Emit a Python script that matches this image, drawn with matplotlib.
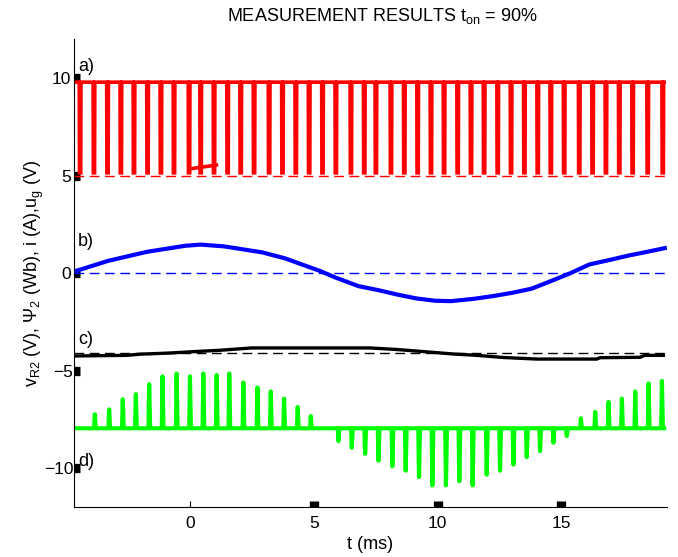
import numpy as np
import matplotlib
matplotlib.use("Agg")
import matplotlib.pyplot as plt

plt.rcParams['font.family'] = ['Liberation Sans', 'DejaVu Sans']
plt.rcParams['mathtext.fontset'] = 'custom'
plt.rcParams['mathtext.rm'] = 'Liberation Sans'
plt.rcParams['mathtext.it'] = 'Liberation Sans'

# ==== a) gate voltage: PWM pulses (times in ms where the signal drops) ====
ug_high = 9.8
ug_low = 5.15
ug_ref = 5.0
pulse_t = [-4.50, -3.94, -3.39, -2.85, -2.32, -1.77, -1.23, -0.70, -0.09, 0.38,
           0.92, 1.47, 2.00, 2.54, 3.15, 3.69, 4.23, 4.77, 5.31, 5.85,
           6.46, 7.00, 7.47, 8.08, 8.62, 9.16, 9.70, 10.23, 10.78, 11.32,
           11.85, 12.40, 12.94, 13.48, 14.02, 14.55, 15.09, 15.70, 16.24, 16.78,
           17.32, 17.86, 18.47, 19.08]
glitch_t = [-0.05, 1.05]
glitch_v = [5.35, 5.55]

# ==== b) flux ====
psi_t = [-4.68, -3.32, -1.76, -0.21, 0.42, 1.35, 2.91, 3.84, 4.47, 5.24,
         5.87, 6.80, 7.58, 8.36, 9.14, 9.91, 10.54, 11.47, 12.25, 13.03,
         13.81, 14.59, 15.37, 16.14, 16.92, 17.70, 18.48, 19.20]
psi_v = [0.10, 0.64, 1.10, 1.41, 1.47, 1.38, 1.07, 0.76, 0.47, 0.12,
         -0.22, -0.66, -0.86, -1.09, -1.29, -1.41, -1.43, -1.31, -1.17, -1.00,
         -0.79, -0.40, 0.00, 0.45, 0.67, 0.90, 1.10, 1.29]

# ==== c) current (offset) ====
i_t = [-4.69, -2.58, -2.04, -0.83, 0.11, 1.19, 2.48, 7.27, 8.35, 9.56,
       10.64, 11.59, 12.66, 14.02, 16.44, 16.58, 18.20, 18.37, 19.14]
i_v = [-4.24, -4.21, -4.15, -4.09, -4.02, -3.95, -3.83, -3.83, -3.91, -4.03,
       -4.14, -4.21, -4.32, -4.40, -4.40, -4.33, -4.31, -4.21, -4.21]
i_ref = -4.07

# ==== d) resistor voltage spikes (offset) ====
vr_base = -7.95
spike_t = [-3.87, -3.29, -2.74, -2.21, -1.67, -1.13, -0.56, -0.02, 0.52, 1.06,
           1.57, 2.14, 2.71, 3.25, 3.79, 4.34, 4.87,
           5.99, 6.53, 7.07, 7.61, 8.17, 8.71, 9.25, 9.79, 10.34, 10.88,
           11.42, 11.99, 12.53, 13.07, 13.61, 14.15, 14.69, 15.23,
           15.80, 16.38, 16.92, 17.46, 18.00, 18.54, 19.08]
spike_v = [-7.23, -6.98, -6.46, -6.20, -5.69, -5.29, -5.14, -5.29, -5.14, -5.22,
           -5.14, -5.60, -5.86, -6.06, -6.43, -6.86, -7.32,
           -8.61, -8.95, -9.26, -9.61, -9.90, -10.12, -10.45, -10.88, -10.88, -10.67,
           -10.88, -10.33, -10.12, -9.81, -9.43, -9.12, -8.69, -8.35,
           -7.44, -7.11, -6.60, -6.43, -6.06, -5.65, -5.52]

t_start, t_end = -4.66, 19.17
x_lim = (-4.70, 19.27)

# build the pulse trace
ug_x, ug_y = [t_start], [ug_high]
for tp in pulse_t:
    ug_x += [tp, tp + 0.01, tp + 0.06, tp + 0.07]
    ug_y += [ug_high, ug_low, ug_low, ug_high]
ug_x.append(t_end)
ug_y.append(ug_high)

# build the spike trace
vr_x, vr_y = [t_start], [vr_base]
for ts, vs in zip(spike_t, spike_v):
    vr_x += [ts - 0.03, ts, ts + 0.04]
    vr_y += [vr_base, vs, vr_base]
vr_x.append(t_end)
vr_y.append(vr_base)

fig = plt.figure(figsize=(6.78, 5.57), dpi=100)
ax = fig.add_axes([0.1096, 0.0893, 0.8736, 0.8402])

dash = (7, 4)
ax.plot(x_lim, [ug_ref, ug_ref], color='red', lw=1.0, dashes=dash)
ax.plot(x_lim, [0, 0], color='blue', lw=1.0, dashes=dash)
ax.plot(x_lim, [i_ref, i_ref], color='black', lw=1.0, dashes=dash)

ax.plot(ug_x, ug_y, color='red', lw=2.6, solid_joinstyle='miter')
ax.plot(glitch_t, glitch_v, color='red', lw=2.6)
ax.plot(psi_t, psi_v, color='blue', lw=3.0)
ax.plot(i_t, i_v, color='black', lw=2.4)
ax.plot(vr_x, vr_y, color='#00ff00', lw=3.0)

for lab, yv in [('a)', 10.6), ('b)', 1.65), ('c)', -3.4), ('d)', -9.65)]:
    ax.text(-4.55, yv, lab, fontsize=13, ha='left', va='center')

ax.set_xlim(*x_lim)
ax.set_ylim(-12, 12)
ax.set_xticks([0, 5, 10, 15])
ax.set_yticks([-10, -5, 0, 5, 10])
ax.set_yticklabels(['\u221210', '\u22125', '0', '5', '10'])
ax.tick_params(direction='in', length=4.5, width=6.7, labelsize=12.5)
ax.tick_params(axis='x', pad=6)
ax.tick_params(axis='y', pad=2.5)
ax.xaxis.get_major_ticks()[0].tick1line.set_markeredgewidth(0.8)
for tk in ax.yaxis.get_major_ticks()[:2]:
    tk.set_pad(0.6)

for s in ['top', 'right']:
    ax.spines[s].set_visible(False)
for s in ['left', 'bottom']:
    ax.spines[s].set_linewidth(0.8)

ax.set_xlabel('t (ms)', fontsize=13, labelpad=4)
ax.set_ylabel(r'v$_{\rm R2}$ (V), $\Psi_{\rm 2}$ (Wb), i (A),u$_{\rm g}$ (V)', fontsize=13)
ax.yaxis.set_label_coords(-0.047, 0.5)
ax.set_title(r'MEASUREMENT RESULTS t$_{\rm on}$ = 90%', fontsize=13, pad=13, x=0.52)

fig.savefig('out.png', dpi=100)
